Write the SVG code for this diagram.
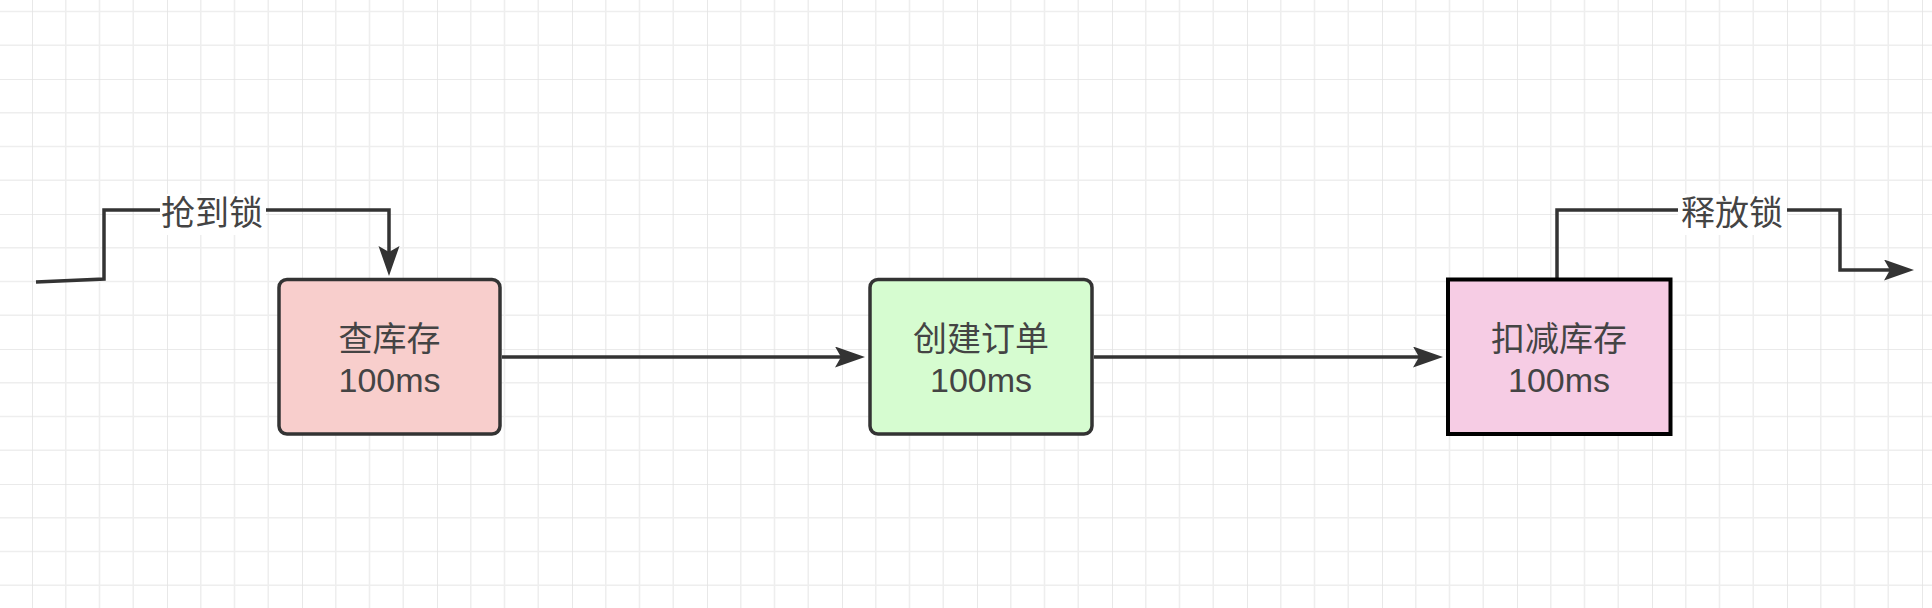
<svg xmlns="http://www.w3.org/2000/svg" width="1932" height="608" viewBox="0 0 1932 608">
  <defs>
    <pattern id="grid" patternUnits="userSpaceOnUse" x="32" y="79" width="135" height="135">
      <g stroke="#eeeeee" stroke-width="1.6" fill="none">
        <path d="M33.75,0 V135 M67.5,0 V135 M101.25,0 V135 M0,33.75 H135 M0,67.5 H135 M0,101.25 H135"/>
      </g>
      <g stroke="#e3e3e3" stroke-width="1.6" fill="none">
        <path d="M0,0 V135 M0,0 H135"/>
      </g>
    </pattern>
    <marker id="arrow" markerUnits="userSpaceOnUse" markerWidth="32" markerHeight="22" refX="6" refY="10.5" orient="auto" viewBox="0 0 32 22">
      <path d="M0,0 L30,10.5 L0,21 L6,10.5 Z" fill="#333333"/>
    </marker>
    <style>
      .box { stroke: #333333; stroke-width: 3.5; }
      .txt { font-family: "Liberation Sans", "Noto Sans CJK SC", sans-serif; font-size: 34px; fill: #444444; text-anchor: middle; }
      .conn { fill: none; stroke: #333333; stroke-width: 3.5; stroke-linejoin: miter; }
      .lblbg { fill: #ffffff; }
    </style>
  </defs>

  <rect x="0" y="0" width="1932" height="608" fill="#ffffff"/>
  <rect x="0" y="0" width="1932" height="608" fill="url(#grid)"/>

  <g id="connectors">
    <path class="conn" d="M36,282 L104,279 L104,210 L389,210 L389,252" marker-end="url(#arrow)"/>
    <path class="conn" d="M502,357 L841,357" marker-end="url(#arrow)"/>
    <path class="conn" d="M1094,357 L1419,357" marker-end="url(#arrow)"/>
    <path class="conn" d="M1557,278 L1557,210 L1840,210 L1840,270 L1890,270" marker-end="url(#arrow)"/>
    <g id="label-grab">
      <rect class="lblbg" x="160" y="194" width="106" height="41"/>
      <text class="txt" x="212" y="225">抢到锁</text>
    </g>
    <g id="label-release">
      <rect class="lblbg" x="1678" y="194" width="109" height="41"/>
      <text class="txt" x="1732" y="225">释放锁</text>
    </g>
  </g>

  <g id="node-check-stock">
    <rect class="box" x="279" y="279.5" width="221" height="154.5" rx="8" ry="8" fill="#f8cecc"/>
    <text class="txt" x="389.5" y="351">查库存</text>
    <text class="txt" x="389.5" y="392">100ms</text>
  </g>

  <g id="node-create-order">
    <rect class="box" x="870" y="279.5" width="222" height="154.5" rx="8" ry="8" fill="#d6fcd0"/>
    <text class="txt" x="981" y="351">创建订单</text>
    <text class="txt" x="981" y="392">100ms</text>
  </g>

  <g id="node-deduct-stock">
    <rect x="1448" y="279.5" width="222.5" height="154.5" fill="#f6cce4" stroke="#000000" stroke-width="4"/>
    <text class="txt" x="1559" y="351">扣减库存</text>
    <text class="txt" x="1559" y="392">100ms</text>
  </g>
</svg>
